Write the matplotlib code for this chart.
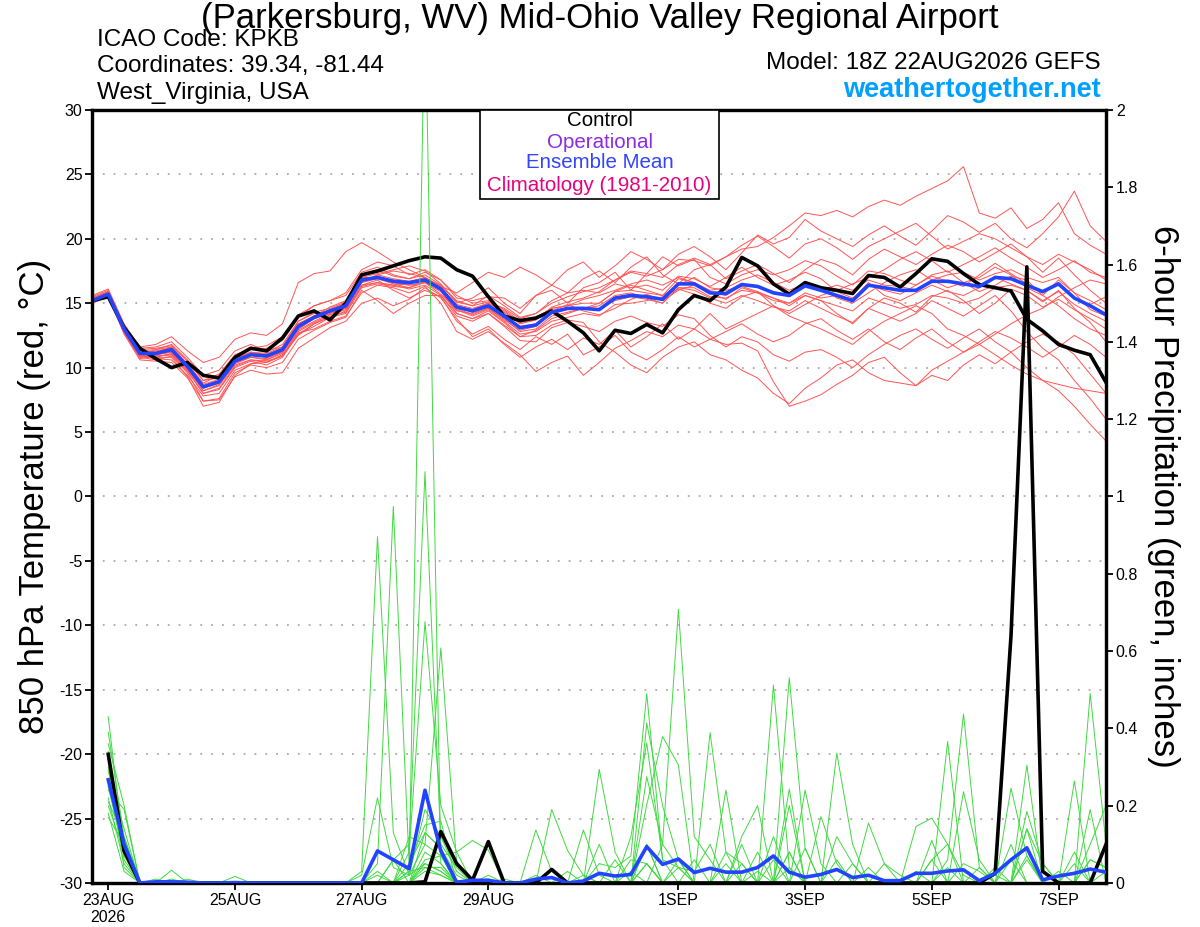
import numpy as np
import pandas as pd
import matplotlib
matplotlib.use('Agg')
import matplotlib.pyplot as plt
from matplotlib.patches import Rectangle
from matplotlib.ticker import FixedLocator, FuncFormatter

plt.rcParams['font.family'] = ['Liberation Sans', 'DejaVu Sans']

# ---------------- time axes ----------------
temp_times = pd.date_range('2026-08-22 18:00', periods=65, freq='6h')
precip_times = pd.date_range('2026-08-23 00:00', periods=64, freq='6h')

tick_dates = pd.to_datetime(['2026-08-23', '2026-08-25', '2026-08-27', '2026-08-29',
                             '2026-09-01', '2026-09-03', '2026-09-05', '2026-09-07'])
tick_labels = ['23AUG\n2026', '25AUG', '27AUG', '29AUG', '1SEP', '3SEP', '5SEP', '7SEP']

temp_ticks = [-30, -25, -20, -15, -10, -5, 0, 5, 10, 15, 20, 25, 30]
precip_ticks = [0, 0.2, 0.4, 0.6, 0.8, 1.0, 1.2, 1.4, 1.6, 1.8, 2.0]

# ---------------- 850 hPa temperature (C) ----------------
control_temp = [15.2, 15.5, 13.1, 11.5, 10.7, 10.0, 10.4, 9.4,
                9.2, 10.8, 11.5, 11.3, 12.3, 14.0, 14.4, 13.7,
                15.0, 17.2, 17.5, 17.9, 18.3, 18.6, 18.5, 17.6,
                17.1, 15.5, 14.0, 13.65, 13.85, 14.4, 13.6, 12.7,
                11.3, 12.9, 12.65, 13.35, 12.7, 14.5, 15.6, 15.2,
                16.25, 18.55, 17.9, 16.5, 15.7, 16.6, 16.2, 16.0,
                15.75, 17.15, 17.0, 16.25, 17.3, 18.45, 18.25, 17.3,
                16.45, 16.2, 15.95, 13.75, 12.85, 11.8, 11.35, 11.0,
                8.85]

mean_temp = [15.2, 15.7, 13.0, 11.1, 11.1, 11.4, 10.1, 8.5,
             8.9, 10.5, 11.0, 10.9, 11.4, 13.2, 13.9, 14.4,
             14.8, 16.8, 17.0, 16.7, 16.6, 16.8, 16.1, 14.7,
             14.4, 14.8, 14.0, 13.1, 13.3, 14.3, 14.6, 14.6,
             14.5, 15.4, 15.6, 15.5, 15.3, 16.5, 16.5, 15.8,
             15.75, 16.45, 16.3, 15.8, 15.6, 16.35, 16.0, 15.6,
             15.2, 16.4, 16.2, 16.0, 16.0, 16.7, 16.7, 16.5,
             16.3, 17.0, 16.9, 16.4, 15.9, 16.5, 15.4, 14.8,
             14.1]

member_temp = [
    [15.4, 15.9, 13.2, 11.3, 11.2, 11.6, 10.3, 8.8, 9.4, 10.9, 11.6, 11.2, 11.8, 13.6, 14.3, 14.6,
     15.1, 17.2, 17.6, 17.1, 16.9, 17.2, 16.4, 15.1, 14.8, 15.1, 14.6, 13.8, 14.2, 15.0, 15.5, 15.9,
     16.2, 16.8, 17.4, 17.1, 17.6, 18.4, 18.3, 17.9, 18.6, 19.2, 19.4, 20.1, 21.0, 22.0, 21.8, 22.2,
     21.7, 22.5, 23.0, 22.6, 23.3, 23.9, 24.5, 25.6, 22.0, 21.6, 22.4, 20.8, 21.5, 22.8, 20.4, 19.5, 18.8],
    [15.6, 16.1, 13.4, 11.6, 11.8, 12.4, 11.3, 10.4, 10.8, 12.2, 12.7, 12.5, 13.4, 16.6, 17.3, 17.5,
     19.0, 19.7, 19.0, 18.2, 17.6, 17.0, 16.3, 15.8, 16.6, 17.4, 17.0, 17.8, 17.2, 16.4, 17.6, 18.2,
     17.0, 17.9, 19.0, 18.4, 17.6, 18.8, 19.4, 18.6, 17.6, 18.9, 20.3, 19.6, 20.1, 21.5, 20.6, 20.0,
     19.4, 20.3, 21.0, 20.2, 19.5, 20.6, 21.8, 21.3, 20.5, 21.2, 20.0, 19.3, 20.4, 21.7, 23.7, 21.0, 19.8],
    [15.0, 15.5, 12.8, 10.8, 10.6, 10.9, 9.6, 7.4, 7.6, 9.6, 10.2, 10.0, 10.4, 12.2, 12.9, 13.5,
     13.9, 16.0, 15.2, 14.2, 15.0, 15.6, 15.6, 14.0, 13.6, 14.2, 13.2, 12.1, 12.0, 13.1, 13.5, 13.2,
     12.8, 13.6, 14.0, 13.5, 13.2, 14.1, 13.8, 12.5, 11.6, 12.4, 12.0, 11.0, 10.5, 11.2, 11.4, 10.8,
     10.0, 11.0, 11.8, 12.5, 13.0, 12.2, 11.5, 12.3, 13.0, 12.0, 11.2, 10.0, 9.0, 8.2, 7.0, 5.6, 4.3],
    [15.1, 15.6, 12.7, 10.9, 10.8, 10.8, 9.3, 7.0, 7.3, 9.4, 10.3, 10.4, 11.0, 12.5, 13.4, 14.0,
     14.3, 16.4, 16.8, 16.0, 15.4, 16.0, 15.5, 13.6, 12.6, 13.2, 12.2, 11.4, 12.4, 11.8, 12.6, 11.0,
     11.6, 12.5, 11.2, 10.6, 11.4, 12.4, 11.6, 12.2, 11.8, 11.9, 11.3, 8.9, 7.0, 7.4, 7.9, 8.7,
     9.4, 10.4, 10.8, 9.6, 8.6, 9.4, 9.0, 10.2, 11.0, 10.3, 11.2, 12.0, 12.6, 12.0, 11.0, 9.5, 8.0],
    [15.3, 15.8, 13.1, 11.2, 11.0, 11.3, 10.0, 8.2, 8.7, 10.3, 10.8, 10.6, 11.1, 12.9, 13.6, 14.2,
     14.7, 16.6, 17.2, 17.5, 17.3, 17.0, 16.0, 14.2, 13.8, 14.4, 13.5, 12.4, 12.9, 13.8, 14.2, 14.6,
     15.0, 15.9, 16.4, 16.0, 15.6, 16.4, 17.0, 16.2, 16.0, 16.3, 15.9, 14.8, 14.2, 14.9, 15.6, 16.0,
     16.5, 17.0, 17.6, 18.4, 19.0, 18.3, 17.4, 18.0, 18.6, 19.3, 18.5, 17.8, 17.0, 17.6, 18.3, 17.4, 17.0],
    [15.2, 15.6, 12.9, 11.0, 11.4, 11.8, 10.6, 9.0, 9.2, 10.9, 11.4, 11.5, 12.1, 13.9, 14.8, 15.2,
     15.6, 17.4, 17.8, 17.2, 16.9, 17.4, 16.8, 15.4, 15.2, 15.5, 15.4, 14.6, 15.6, 16.0, 15.0, 16.2,
     16.6, 17.4, 16.0, 17.3, 18.6, 17.9, 18.4, 17.0, 16.5, 17.2, 17.6, 17.2, 17.6, 18.3, 17.9, 17.1,
     16.4, 17.5, 17.3, 16.8, 16.4, 17.2, 17.5, 16.6, 15.9, 16.4, 17.1, 16.8, 15.6, 14.8, 13.8, 13.0, 12.5],
    [15.0, 15.6, 12.7, 10.7, 10.9, 11.0, 9.8, 8.0, 8.3, 10.0, 10.5, 10.2, 10.8, 12.6, 13.2, 13.9,
     14.2, 16.2, 16.5, 16.3, 16.2, 16.6, 15.7, 14.5, 14.0, 14.5, 13.6, 12.6, 12.8, 13.6, 13.9, 14.2,
     14.0, 14.9, 15.0, 15.2, 15.5, 16.1, 15.7, 15.0, 14.6, 15.5, 15.9, 15.4, 14.8, 15.6, 15.2, 14.2,
     13.4, 14.6, 15.4, 15.0, 14.3, 15.5, 16.0, 15.2, 14.2, 15.0, 16.1, 15.6, 14.7, 15.3, 14.5, 13.8, 13.0],
    [15.4, 15.9, 13.3, 11.5, 11.6, 12.0, 10.8, 9.4, 9.8, 11.3, 11.8, 11.3, 11.6, 13.6, 14.2, 14.4,
     14.9, 16.8, 16.9, 16.5, 16.2, 16.8, 16.4, 15.2, 14.8, 15.6, 14.8, 13.9, 14.2, 15.2, 15.8, 16.0,
     15.8, 16.5, 16.2, 16.4, 16.0, 17.1, 16.9, 16.3, 17.0, 17.8, 17.0, 16.4, 16.8, 17.4, 16.9, 15.9,
     15.4, 16.4, 16.0, 15.7, 16.4, 17.1, 16.7, 16.3, 17.2, 18.1, 17.3, 16.5, 15.8, 16.6, 15.4, 14.9, 15.5],
    [15.1, 15.5, 12.6, 10.6, 10.5, 10.4, 9.2, 7.4, 7.5, 9.3, 9.8, 9.5, 9.6, 11.5, 12.3, 13.1,
     13.6, 15.0, 15.4, 14.8, 15.3, 16.2, 15.4, 13.8, 12.4, 13.0, 11.8, 10.8, 11.6, 12.2, 11.4, 12.3,
     11.8, 12.9, 11.6, 12.4, 13.4, 12.2, 13.0, 14.2, 13.0, 13.6, 14.2, 14.8, 14.0, 13.5, 13.0, 12.4,
     11.8, 12.8, 13.6, 14.2, 14.8, 14.2, 13.0, 12.5, 11.8, 12.6, 13.4, 14.1, 14.6, 15.5, 16.2, 16.8, 16.5],
    [15.3, 15.7, 13.0, 11.1, 11.2, 11.5, 10.2, 8.6, 9.0, 10.6, 11.1, 11.0, 11.5, 13.4, 14.0, 14.7,
     15.2, 17.0, 17.3, 17.6, 17.9, 17.5, 16.5, 15.0, 15.4, 16.2, 15.0, 14.2, 15.6, 16.4, 15.8, 16.9,
     17.5, 16.6, 17.8, 18.6, 17.2, 16.5, 17.6, 18.0, 16.9, 17.5, 18.0, 17.3, 16.6, 17.6, 18.4, 18.0,
     17.2, 18.4, 19.2, 18.6, 18.0, 18.8, 19.5, 19.0, 18.2, 18.9, 19.6, 18.6, 17.4, 18.5, 17.2, 16.0, 15.0],
    [15.2, 15.8, 13.1, 11.2, 11.0, 11.2, 9.9, 8.2, 8.6, 10.2, 10.6, 10.5, 10.9, 12.8, 13.5, 14.1,
     14.5, 16.4, 16.6, 16.4, 16.5, 17.0, 16.2, 14.6, 14.1, 14.6, 13.7, 12.9, 13.2, 14.4, 14.9, 14.4,
     14.1, 14.6, 15.3, 15.7, 15.2, 16.0, 16.4, 15.8, 15.3, 16.2, 15.8, 15.2, 15.0, 15.8, 15.4, 15.6,
     15.3, 16.6, 15.6, 15.2, 15.8, 16.4, 15.9, 15.6, 16.2, 17.0, 16.5, 16.0, 15.1, 16.0, 14.6, 13.5, 12.0],
    [15.1, 15.6, 12.8, 10.9, 10.7, 10.6, 9.4, 7.8, 8.0, 9.8, 10.3, 10.6, 11.2, 12.7, 13.0, 13.6,
     14.0, 15.8, 16.4, 16.2, 15.8, 16.3, 15.0, 12.8, 12.2, 12.8, 11.9, 11.0, 9.7, 10.4, 10.9, 9.4,
     10.4, 11.5, 12.1, 12.8, 12.4, 13.3, 13.0, 12.2, 12.8, 13.4, 12.6, 12.0, 12.5, 13.4, 13.8, 12.9,
     12.2, 13.0, 12.0, 11.4, 12.3, 13.0, 12.0, 11.2, 12.0, 12.8, 12.3, 11.6, 10.8, 11.6, 12.5, 11.8, 10.8],
    [15.5, 16.0, 13.3, 11.4, 11.5, 11.7, 10.5, 9.0, 9.5, 11.0, 11.5, 11.7, 12.4, 14.1, 14.8, 15.2,
     15.8, 17.6, 18.2, 17.9, 17.2, 17.6, 16.8, 15.6, 15.0, 15.2, 14.5, 13.6, 13.9, 14.6, 14.8, 15.3,
     15.6, 16.0, 16.5, 16.8, 16.4, 17.0, 16.6, 16.0, 16.2, 16.8, 17.2, 16.6, 16.0, 16.5, 16.2, 15.4,
     15.0, 15.8, 16.6, 17.2, 17.6, 16.8, 16.2, 16.6, 17.0, 17.8, 17.2, 16.2, 15.6, 16.8, 15.8, 14.5, 14.0],
    [15.2, 15.7, 13.0, 11.0, 10.8, 11.1, 9.9, 8.4, 8.8, 10.4, 10.8, 10.7, 11.3, 13.0, 13.8, 14.3,
     14.6, 16.6, 16.9, 16.6, 16.4, 16.6, 15.9, 14.4, 14.2, 14.6, 13.8, 12.8, 13.0, 14.0, 14.3, 14.6,
     14.8, 15.6, 15.8, 15.4, 15.0, 16.2, 16.0, 15.4, 15.0, 15.6, 15.2, 14.7, 14.4, 15.2, 14.6, 14.0,
     13.5, 14.6, 14.1, 13.6, 14.2, 15.2, 14.6, 14.0, 14.8, 15.6, 14.4, 12.8, 11.5, 10.6, 9.0, 7.6, 6.0],
    [15.3, 15.8, 13.1, 11.3, 11.4, 11.6, 10.3, 8.7, 9.1, 10.7, 11.2, 11.0, 11.4, 13.3, 14.0, 14.5,
     15.0, 17.0, 17.0, 16.6, 16.4, 16.6, 16.1, 14.9, 14.6, 15.0, 14.3, 13.4, 13.7, 14.6, 14.8, 15.0,
     15.0, 15.9, 16.0, 15.8, 15.6, 16.9, 16.6, 15.9, 15.6, 16.4, 16.3, 15.9, 15.6, 16.3, 16.0, 16.4,
     16.0, 16.8, 16.4, 16.3, 16.0, 16.8, 17.2, 17.4, 16.8, 17.3, 17.6, 17.0, 16.6, 17.0, 15.8, 15.2, 14.5],
    [15.2, 15.6, 12.9, 11.0, 11.0, 11.2, 10.0, 8.5, 8.8, 10.4, 11.0, 10.8, 11.2, 13.0, 13.8, 14.2,
     14.6, 16.7, 17.2, 16.9, 16.7, 17.0, 16.3, 14.8, 14.3, 14.7, 14.0, 13.2, 13.4, 14.2, 14.5, 14.5,
     14.6, 15.2, 15.5, 15.3, 15.0, 16.2, 16.2, 15.5, 15.4, 16.0, 15.8, 15.4, 15.0, 15.6, 15.2, 14.8,
     14.4, 15.4, 15.0, 14.6, 14.9, 15.6, 15.4, 15.0, 15.4, 16.2, 16.4, 16.0, 15.2, 15.9, 14.9, 14.2, 13.6],
    [15.3, 15.7, 13.0, 11.1, 11.3, 11.5, 10.1, 8.6, 9.0, 10.6, 11.2, 11.1, 11.6, 13.4, 14.0, 14.5,
     15.0, 16.9, 17.0, 16.8, 16.6, 16.9, 16.2, 14.8, 14.5, 15.0, 14.4, 13.5, 13.7, 14.7, 15.1, 15.4,
     15.9, 16.8, 17.5, 17.3, 17.0, 18.0, 18.5, 18.0, 18.6, 19.5, 20.2, 19.4, 18.5, 19.6, 20.0, 19.3,
     18.4, 19.4, 20.0, 20.6, 21.2, 20.2, 19.2, 19.8, 20.4, 20.0, 19.3, 18.6, 18.0, 18.8, 18.2, 17.6, 16.8],
    [15.1, 15.6, 12.9, 10.9, 10.9, 11.0, 9.7, 8.0, 8.4, 10.1, 10.6, 10.4, 10.9, 12.6, 13.4, 13.9,
     14.4, 16.3, 16.6, 16.4, 16.1, 16.4, 15.6, 14.2, 13.8, 14.2, 13.3, 12.4, 12.5, 13.3, 13.7, 13.5,
     12.0, 11.2, 10.2, 9.6, 10.8, 11.6, 12.0, 11.0, 10.6, 9.8, 9.2, 8.0, 7.2, 8.4, 9.2, 10.2,
     10.6, 9.6, 9.0, 8.8, 8.6, 9.8, 10.5, 11.2, 11.8, 11.0, 10.2, 9.5, 9.0, 8.7, 8.4, 8.2, 8.0],
]

# ---------------- 6-hour precipitation (inches) ----------------
control_precip = [0.333, 0.083, 0, 0, 0, 0, 0, 0,
                  0, 0, 0, 0, 0, 0, 0, 0,
                  0, 0, 0, 0, 0.003, 0.133, 0.05, 0.007,
                  0.107, 0, 0, 0, 0.035, 0, 0, 0,
                  0, 0, 0, 0, 0, 0, 0, 0,
                  0, 0, 0, 0, 0, 0, 0, 0,
                  0, 0, 0, 0, 0, 0, 0, 0,
                  0.025, 0.64, 1.594, 0.03, 0, 0, 0, 0.1]

mean_precip = [0.267, 0.1, 0, 0.003, 0.003, 0.002, 0, 0,
               0.001, 0, 0, 0, 0, 0, 0, 0,
               0, 0.083, 0.06, 0.037, 0.24, 0.083, 0.002, 0.007,
               0.007, 0, 0, 0.01, 0.014, 0, 0.005, 0.025,
               0.018, 0.022, 0.094, 0.048, 0.062, 0.027, 0.038, 0.028,
               0.028, 0.04, 0.07, 0.028, 0.015, 0.022, 0.035, 0.014,
               0.02, 0.006, 0.006, 0.025, 0.025, 0.031, 0.034, 0.006,
               0.025, 0.06, 0.091, 0.008, 0.018, 0.025, 0.036, 0.028]

member_precip = [
    [0.43, 0.08, 0, 0.01, 0, 0, 0, 0, 0, 0, 0, 0, 0, 0, 0, 0,
     0.03, 0.896, 0.13, 0.02, 0.05, 0.03, 0, 0, 0, 0, 0, 0, 0.19, 0.084, 0.02, 0,
     0, 0, 0.05, 0, 0, 0, 0, 0, 0, 0, 0, 0.08, 0, 0, 0, 0,
     0, 0, 0, 0, 0.06, 0.1, 0.02, 0, 0, 0, 0.07, 0, 0, 0, 0.06, 0.04],
    [0.39, 0.12, 0, 0, 0, 0, 0, 0, 0, 0, 0, 0, 0, 0, 0, 0,
     0, 0.05, 0.974, 0.05, 0.13, 0.09, 0.02, 0, 0, 0, 0, 0, 0, 0, 0, 0.05,
     0.04, 0.07, 0.49, 0.06, 0.04, 0, 0, 0, 0, 0, 0.512, 0.04, 0, 0, 0, 0,
     0, 0, 0, 0, 0, 0, 0.05, 0.03, 0, 0, 0, 0, 0, 0.05, 0, 0],
    [0.36, 0.2, 0, 0, 0.033, 0, 0, 0, 0, 0, 0, 0, 0, 0, 0, 0,
     0, 0, 0, 0.03, 2.3, 0.05, 0, 0, 0, 0, 0, 0, 0, 0, 0, 0,
     0, 0, 0.275, 0.1, 0.708, 0.12, 0.06, 0, 0, 0.08, 0, 0, 0, 0, 0.12, 0.05,
     0, 0, 0, 0, 0, 0, 0, 0, 0, 0, 0.14, 0.05, 0, 0, 0.49, 0.1],
    [0.34, 0.06, 0, 0, 0, 0, 0, 0, 0, 0, 0, 0, 0, 0, 0, 0,
     0, 0, 0.06, 0.1, 1.064, 0.1, 0.04, 0, 0.02, 0, 0, 0, 0, 0, 0, 0.1,
     0, 0, 0.414, 0.2, 0.06, 0, 0.389, 0.08, 0.05, 0, 0, 0.531, 0.09, 0, 0, 0,
     0, 0, 0, 0, 0, 0.06, 0.437, 0.04, 0, 0, 0, 0, 0, 0, 0, 0],
    [0.32, 0.1, 0, 0, 0, 0, 0, 0, 0, 0, 0, 0, 0, 0, 0, 0,
     0, 0.02, 0, 0.08, 0.676, 0.2, 0.08, 0.11, 0.085, 0, 0, 0.02, 0, 0, 0, 0,
     0, 0.12, 0.362, 0.06, 0, 0, 0, 0.24, 0, 0, 0, 0, 0.24, 0.05, 0, 0,
     0.155, 0.05, 0.02, 0, 0, 0, 0, 0, 0, 0.245, 0.07, 0, 0, 0, 0, 0],
    [0.30, 0.04, 0, 0, 0, 0, 0, 0, 0.017, 0, 0, 0, 0, 0, 0, 0,
     0, 0, 0, 0.12, 0.1, 0.608, 0.05, 0, 0, 0, 0, 0, 0, 0, 0.137, 0.02,
     0, 0, 0.202, 0.379, 0.305, 0, 0, 0, 0, 0, 0.12, 0, 0, 0.172, 0.05, 0,
     0, 0, 0, 0.146, 0.168, 0.1, 0, 0, 0, 0, 0.305, 0, 0, 0, 0.1, 0.2],
    [0.29, 0.14, 0, 0, 0.01, 0, 0, 0, 0, 0, 0, 0, 0, 0, 0, 0,
     0.02, 0.22, 0.04, 0.02, 0.19, 0.12, 0.03, 0, 0, 0, 0, 0, 0, 0, 0, 0.294,
     0.08, 0, 0.1, 0, 0, 0, 0, 0, 0.12, 0.2, 0, 0.243, 0, 0, 0, 0,
     0, 0, 0, 0, 0, 0, 0.236, 0.06, 0, 0.1, 0, 0, 0, 0.264, 0, 0],
    [0.27, 0.09, 0, 0, 0, 0.01, 0, 0, 0, 0, 0, 0, 0, 0, 0, 0,
     0, 0.03, 0, 0.05, 0.15, 0.16, 0, 0, 0, 0, 0, 0.137, 0.03, 0, 0, 0,
     0, 0.06, 0.05, 0, 0, 0.06, 0, 0, 0, 0, 0, 0.2, 0, 0, 0.336, 0.1,
     0, 0, 0, 0, 0, 0.366, 0, 0, 0.04, 0, 0.185, 0.05, 0, 0, 0, 0],
    [0.26, 0.11, 0, 0, 0, 0, 0, 0, 0, 0, 0, 0, 0, 0, 0, 0,
     0, 0, 0.06, 0, 0.13, 0.09, 0, 0, 0.01, 0, 0, 0, 0, 0, 0, 0,
     0.06, 0, 0, 0.1, 0.04, 0.03, 0.1, 0, 0.1, 0, 0.06, 0, 0, 0, 0, 0,
     0, 0, 0, 0, 0.11, 0, 0, 0, 0, 0.06, 0, 0, 0.03, 0, 0.19, 0],
    [0.25, 0.07, 0, 0, 0, 0, 0, 0, 0, 0, 0, 0, 0, 0, 0, 0,
     0, 0, 0, 0.02, 0.1, 0.07, 0, 0, 0, 0.01, 0, 0, 0, 0, 0, 0,
     0, 0, 0, 0, 0.04, 0, 0, 0.08, 0, 0, 0, 0, 0.09, 0, 0.06, 0,
     0, 0, 0, 0.03, 0, 0, 0, 0, 0.02, 0, 0.14, 0, 0, 0.08, 0, 0],
    [0.24, 0.19, 0, 0, 0, 0, 0, 0, 0, 0, 0, 0, 0, 0, 0, 0,
     0, 0, 0, 0, 0.08, 0.05, 0, 0, 0, 0, 0, 0, 0, 0, 0.02, 0,
     0, 0, 0, 0, 0, 0, 0, 0.05, 0, 0, 0, 0.08, 0, 0, 0, 0,
     0.04, 0, 0, 0, 0, 0, 0, 0, 0, 0, 0, 0, 0, 0, 0.06, 0.04],
    [0.22, 0.05, 0, 0, 0, 0, 0, 0, 0, 0, 0, 0, 0, 0, 0, 0,
     0, 0, 0, 0, 0.06, 0.07, 0.08, 0, 0, 0, 0, 0, 0, 0.03, 0, 0,
     0, 0, 0.1, 0, 0, 0, 0, 0, 0, 0, 0, 0.04, 0, 0, 0, 0.05,
     0, 0, 0, 0, 0, 0.04, 0, 0.04, 0, 0, 0, 0, 0, 0, 0, 0],
    [0.21, 0.12, 0, 0, 0, 0, 0, 0, 0, 0, 0, 0, 0, 0, 0, 0,
     0, 0, 0, 0.03, 0.04, 0.02, 0, 0, 0, 0, 0, 0, 0, 0, 0, 0,
     0, 0.03, 0, 0, 0.06, 0, 0, 0, 0.05, 0, 0, 0, 0, 0, 0, 0,
     0, 0, 0, 0, 0.06, 0, 0, 0, 0, 0, 0.06, 0, 0, 0, 0, 0],
    [0.20, 0.08, 0, 0, 0, 0, 0, 0, 0, 0, 0, 0, 0, 0, 0, 0,
     0, 0, 0, 0, 0.05, 0.03, 0, 0, 0, 0, 0, 0, 0, 0, 0, 0,
     0, 0, 0, 0, 0, 0, 0, 0, 0, 0.03, 0, 0, 0, 0, 0, 0,
     0, 0.05, 0, 0, 0, 0, 0, 0, 0, 0, 0, 0, 0, 0, 0, 0.03],
    [0.18, 0.03, 0, 0, 0, 0, 0, 0, 0, 0, 0, 0, 0, 0, 0, 0,
     0, 0, 0, 0, 0.04, 0.04, 0, 0, 0, 0, 0, 0, 0, 0, 0, 0,
     0, 0, 0, 0, 0, 0, 0, 0, 0, 0, 0, 0, 0, 0, 0, 0,
     0, 0, 0, 0, 0, 0, 0, 0, 0, 0, 0, 0, 0, 0, 0, 0],
    [0.17, 0.1, 0, 0, 0, 0, 0, 0, 0, 0, 0, 0, 0, 0, 0, 0,
     0, 0, 0, 0, 0.03, 0.02, 0, 0, 0, 0, 0, 0, 0, 0, 0, 0,
     0, 0, 0.05, 0, 0, 0, 0, 0, 0, 0, 0, 0, 0, 0, 0, 0,
     0, 0, 0, 0, 0, 0, 0, 0, 0, 0, 0, 0, 0, 0, 0, 0],
]

# ---------------- text ----------------
title = '(Parkersburg, WV) Mid-Ohio Valley Regional Airport'
info_left = ['ICAO Code: KPKB', 'Coordinates: 39.34, -81.44', 'West_Virginia, USA']
model_text = 'Model: 18Z 22AUG2026 GEFS'
site_text = 'weathertogether.net'
legend_items = ['Control', 'Operational', 'Ensemble Mean', 'Climatology (1981-2010)']
legend_colors = ['#000000', '#8a2be2', '#3344ff', '#e8007f']

# ---------------- figure ----------------
fig = plt.figure(figsize=(12, 9.27), dpi=100)
ax = fig.add_axes([0.0770, 0.0475, 0.8447, 0.8339])
ax2 = ax.twinx()

red = (1.0, 0.33, 0.33)
green = (0.25, 0.85, 0.25)
blue = '#2244ff'

for m in member_temp:
    ax.plot(temp_times, m, color=red, lw=0.7, zorder=2)
ax.plot(temp_times, control_temp, color='black', lw=2.6, zorder=4)
ax.plot(temp_times, mean_temp, color=blue, lw=2.6, zorder=5)

for m in member_precip:
    ax2.plot(precip_times, m, color=green, lw=0.7, zorder=2)
ax2.plot(precip_times, control_precip, color='black', lw=2.6, zorder=4)
ax2.plot(precip_times, mean_precip, color=blue, lw=2.6, zorder=5)

ax.set_xlim(temp_times[0], temp_times[-1])
ax.set_ylim(-30, 30)
ax2.set_ylim(0, 2)

ax.yaxis.set_major_locator(FixedLocator(temp_ticks))
ax.set_yticklabels([str(t) for t in temp_ticks])
ax2.yaxis.set_major_locator(FixedLocator(precip_ticks))
ax2.yaxis.set_major_formatter(FuncFormatter(lambda v, p: '{:g}'.format(round(v, 1))))
ax.set_xticks(tick_dates)
ax.set_xticklabels(tick_labels)

for t in temp_ticks[1:-1]:
    ax.axhline(t, color='#aaaaaa', lw=1.3, ls=(0, (1, 5)), zorder=1)

for a in (ax, ax2):
    for s in a.spines.values():
        s.set_linewidth(2.3)
ax.tick_params(axis='y', direction='out', length=5, width=1.3, labelsize=11.5, pad=2)
ax.tick_params(axis='x', direction='out', length=5, width=1.3, labelsize=11.5, pad=2)
ax2.tick_params(axis='y', direction='out', length=5, width=1.3, labelsize=11.5, pad=2)

ax.set_ylabel('850 hPa Temperature (red, °C)', fontsize=25, labelpad=6)
ax2.set_ylabel('6-hour Precipitation (green, inches)', fontsize=25, rotation=-90, labelpad=30)

# header text
fig.text(0.5, 0.980, title, ha='center', va='center', fontsize=25)
for k, s in enumerate(info_left):
    fig.text(0.0808, [0.957, 0.929, 0.900][k], s, ha='left', va='center', fontsize=17.5)
fig.text(0.9175, 0.932, model_text, ha='right', va='center', fontsize=17.5)
fig.text(0.9175, 0.903, site_text, ha='right', va='center', fontsize=19.5,
         fontweight='bold', color='#00a0ff')

# legend box
fig.patches.append(Rectangle((0.400, 0.7853), 0.199, 0.096, transform=fig.transFigure,
                             fill=True, facecolor='white', edgecolor='black', lw=1.2, zorder=10))
for k, (s, c) in enumerate(zip(legend_items, legend_colors)):
    fig.text(0.4996, [0.8695, 0.8468, 0.8242, 0.8004][k], s, ha='center', va='center',
             fontsize=14.8, color=c, zorder=11)

fig.savefig('out.png', dpi=100)
